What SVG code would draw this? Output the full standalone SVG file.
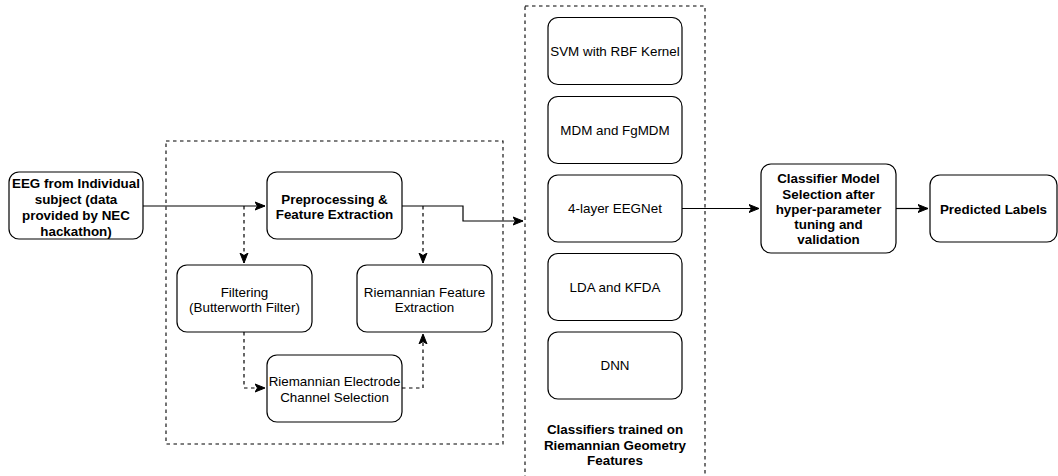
<svg xmlns="http://www.w3.org/2000/svg" width="1058" height="476" viewBox="0 0 1058 476">
<defs>
<style>
.node{fill:#ffffff;stroke:#000000;stroke-width:1.2}
.grp{fill:none;stroke:#000000;stroke-width:1.1;stroke-dasharray:3.5 3.5}
.edge{fill:none;stroke:#000000;stroke-width:1.2}
.dash{stroke-dasharray:3.5 3.5}
text{font-family:"Liberation Sans",Arial,Helvetica,sans-serif;font-size:13.4px;fill:#000000;text-anchor:middle}
.b{font-weight:bold}
</style>
<marker id="arr" markerUnits="userSpaceOnUse" markerWidth="12" markerHeight="12" viewBox="0 0 12 12" refX="10" refY="6" orient="auto">
<path d="M0,2 L10,6 L0,10 L2.5,6 Z" fill="#000000" stroke="#000000" stroke-width="1"/>
</marker>
</defs>
<rect width="1058" height="476" fill="#ffffff"/>
<g id="groups">
<rect class="grp" x="166" y="141" width="337" height="303"/>
<rect class="grp" x="525" y="6" width="180" height="480"/>
</g>
<g id="connectors">
<path class="edge" d="M143,206 L265,206" marker-end="url(#arr)"/>
<path class="edge" d="M402,206 L463,206 L463,221 L523,221" marker-end="url(#arr)"/>
<path class="edge dash" d="M244,206 L244,263" marker-end="url(#arr)"/>
<path class="edge dash" d="M423,206 L423,263" marker-end="url(#arr)"/>
<path class="edge dash" d="M244,332 L244,388 L265,388" marker-end="url(#arr)"/>
<path class="edge dash" d="M402,388 L423,388 L423,334" marker-end="url(#arr)"/>
<path class="edge" d="M682,208.5 L759,208.5" marker-end="url(#arr)"/>
<path class="edge" d="M896,208.5 L928,208.5" marker-end="url(#arr)"/>
</g>
<g id="n-eeg">
<rect class="node" x="9" y="172" width="134" height="67" rx="10"/>
<text class="b" x="76" y="188">EEG from Individual</text>
<text class="b" x="76" y="204">subject (data</text>
<text class="b" x="76" y="220">provided by NEC</text>
<text class="b" x="76" y="235.5">hackathon)</text>
</g>
<g id="n-pre">
<rect class="node" x="267" y="172" width="135" height="67" rx="10"/>
<text class="b" x="334.5" y="204">Preprocessing &amp;</text>
<text class="b" x="334.5" y="219">Feature Extraction</text>
</g>
<g id="n-filter">
<rect class="node" x="177" y="265" width="135" height="67" rx="10"/>
<text x="244.5" y="296.5">Filtering</text>
<text x="244.5" y="312">(Butterworth Filter)</text>
</g>
<g id="n-rfe">
<rect class="node" x="357" y="265" width="135" height="67" rx="10"/>
<text x="424.5" y="296.5">Riemannian Feature</text>
<text x="424.5" y="312">Extraction</text>
</g>
<g id="n-rec">
<rect class="node" x="267" y="355" width="135" height="67" rx="10"/>
<text x="334.5" y="385.5">Riemannian Electrode</text>
<text x="334.5" y="401.5">Channel Selection</text>
</g>
<g id="n-svm">
<rect class="node" x="548" y="17.5" width="134" height="67" rx="10"/>
<text x="615" y="55.5">SVM with RBF Kernel</text>
</g>
<g id="n-mdm">
<rect class="node" x="548" y="96.5" width="134" height="67" rx="10"/>
<text x="615" y="134.5">MDM and FgMDM</text>
</g>
<g id="n-eegnet">
<rect class="node" x="548" y="175" width="134" height="67" rx="10"/>
<text x="615" y="213">4-layer EEGNet</text>
</g>
<g id="n-lda">
<rect class="node" x="548" y="253.5" width="134" height="67" rx="10"/>
<text x="615" y="291.5">LDA and KFDA</text>
</g>
<g id="n-dnn">
<rect class="node" x="548" y="332" width="134" height="67" rx="10"/>
<text x="615" y="370">DNN</text>
</g>
<g id="lbl-classifiers">
<text class="b" x="615" y="434">Classifiers trained on</text>
<text class="b" x="615" y="449.5">Riemannian Geometry</text>
<text class="b" x="615" y="465">Features</text>
</g>
<g id="n-select">
<rect class="node" x="761" y="164" width="135" height="89" rx="10"/>
<text class="b" x="828.5" y="183">Classifier Model</text>
<text class="b" x="828.5" y="198.5">Selection after</text>
<text class="b" x="828.5" y="214">hyper-parameter</text>
<text class="b" x="828.5" y="229">tuning and</text>
<text class="b" x="828.5" y="244">validation</text>
</g>
<g id="n-pred">
<rect class="node" x="930" y="175" width="127" height="67" rx="10"/>
<text class="b" x="993.5" y="213.5">Predicted Labels</text>
</g>
</svg>
